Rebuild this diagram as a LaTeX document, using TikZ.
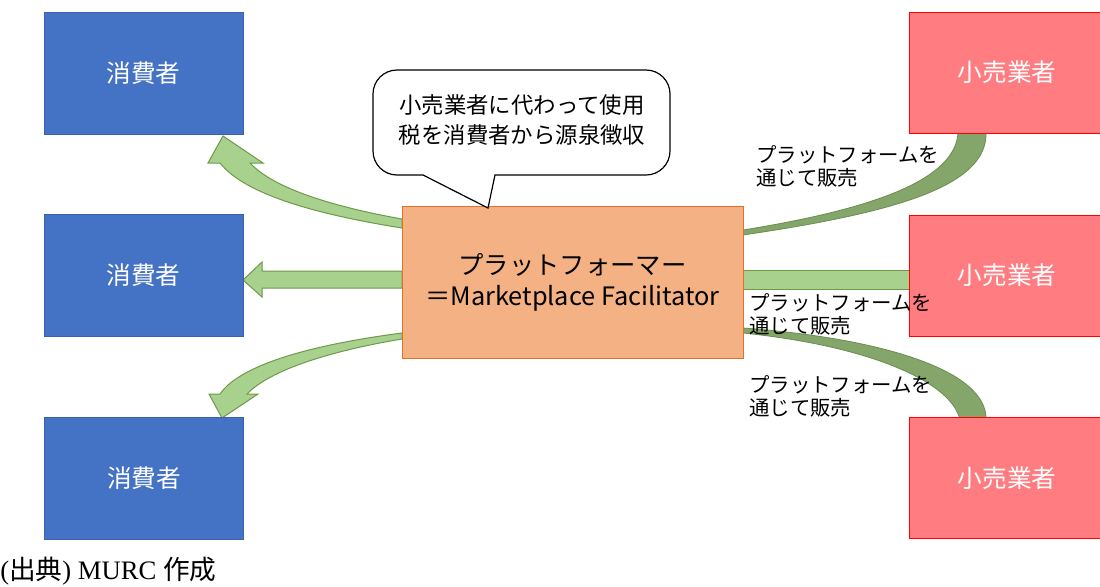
\documentclass[tikz,border=0pt]{standalone}
\usepackage{fontspec}
\setmainfont{Noto Sans CJK JP}
\newfontfamily\footserif{Liberation Serif}
\definecolor{cblue}{HTML}{4472C4}
\definecolor{cbluedk}{HTML}{3A62AC}
\definecolor{cred}{HTML}{FF7C80}
\definecolor{credb}{HTML}{FF0000}
\definecolor{corange}{HTML}{F4B183}
\definecolor{corangeb}{HTML}{E0702A}
\definecolor{lgreen}{HTML}{A9D18E}
\definecolor{lgreenb}{HTML}{6D9A48}
\definecolor{dgreen}{HTML}{84A66A}
\definecolor{dgreenb}{HTML}{6B8E4E}
\begin{document}
\begin{tikzpicture}[x=0.75pt,y=-0.75pt,
  consumer/.style={draw=cbluedk,fill=cblue,line width=0.75pt,minimum width=149.25pt,minimum height=91.5pt,inner sep=0pt,text=white,font=\fontsize{18.5pt}{22pt}\selectfont},
  retailer/.style={draw=credb,fill=cred,line width=0.75pt,minimum width=147pt,minimum height=90.75pt,inner sep=0pt,text=white,font=\fontsize{18.5pt}{22pt}\selectfont},
  platform/.style={draw=corangeb,fill=corange,line width=0.75pt,minimum width=255.75pt,minimum height=114pt,inner sep=0pt,align=center,font=\fontsize{19pt}{23.3pt}\selectfont},
  lbl/.style={anchor=west,inner sep=0pt,align=left,font=\fontsize{15.3pt}{17.3pt}\selectfont},
  larrow/.style={fill=lgreen,draw=lgreenb,line width=0.75pt,line join=miter},
  band/.style={fill=dgreen,draw=dgreenb,line width=0.6pt},
  callout/.style={fill=white,draw=black,line width=0.9pt}
]
\useasboundingbox (0,0) rectangle (1100,586);

% right bands (under boxes)
\path[band] (743,235) .. controls (900,212) and (987,185) .. (986,133)
  -- (958,133) .. controls (955,178) and (880,208) .. (743,230) -- cycle;
\path[band] (743,328) .. controls (880,338) and (988,370) .. (986,420)
  -- (960,420) .. controls (952,382) and (870,346) .. (743,333) -- cycle;
\path[larrow] (743,270) rectangle (909,289);

% left arrows
\path[larrow] (402,228) .. controls (320,215) and (245,195) .. (220,163)
  -- (208,163) -- (223,136) -- (263,163) -- (250,163)
  .. controls (275,190) and (340,208) .. (402,219) -- cycle;
\path[larrow] (402,271) -- (262,271) -- (262,262) -- (243,280) -- (262,297) -- (262,288) -- (402,288) -- cycle;
\path[larrow] (402,333) .. controls (310,345) and (240,365) .. (220,394)
  -- (209,394) -- (222,418) -- (258,394) -- (247,394)
  .. controls (270,370) and (330,351) .. (402,339) -- cycle;

% boxes
\node[consumer] (c1) at (143.5,73) {消費者};
\node[consumer] (c2) at (143.5,275) {消費者};
\node[consumer] (c3) at (144,478) {消費者};
\node[retailer] (r1) at (1007,72.5) {小売業者};
\node[retailer] (r2) at (1007,275.5) {小売業者};
\node[retailer] (r3) at (1007,478) {小売業者};
\node[platform] (pf) at (572.5,282) {プラットフォーマー\\＝Marketplace Facilitator};

% callout
\path[callout] (423,175) -- (488,208) -- (495,175) [rounded corners=18] -- (670,175) -- (670,70) -- (373,70) -- (373,175) [sharp corners] -- cycle;
\node[align=center,inner sep=0pt,font=\fontsize{16.8pt}{22.5pt}\selectfont] (ct) at (522,120) {小売業者に代わって使用\\税を消費者から源泉徴収};

% labels
\node[lbl] (l1) at (756,166) {プラットフォームを\\通じて販売};
\node[lbl] (l2) at (749,314.5) {プラットフォームを\\通じて販売};
\node[lbl] (l3) at (749,396.5) {プラットフォームを\\通じて販売};

% source
\node[anchor=west,inner sep=0pt,font=\fontsize{20pt}{24pt}\selectfont] (src) at (0,571) {{\footserif (}出典{\footserif ) MURC }作成};
\end{tikzpicture}
\end{document}
